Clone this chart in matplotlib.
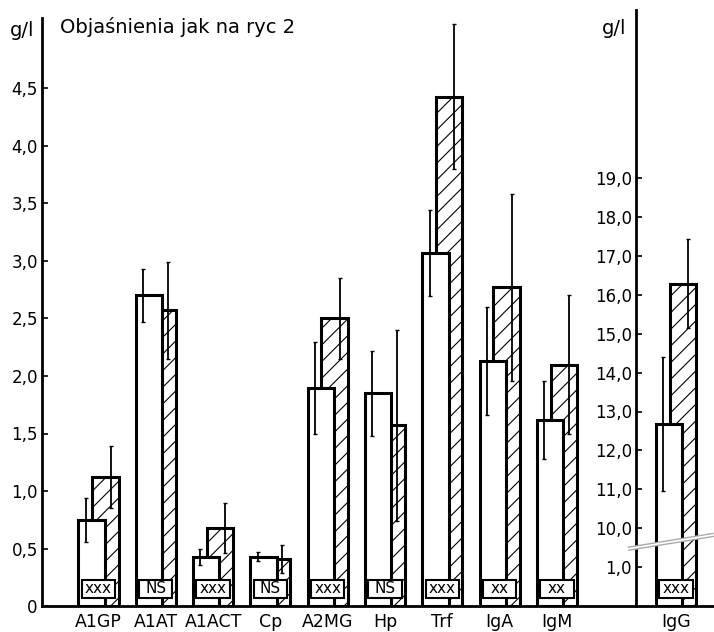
import numpy as np
import matplotlib
matplotlib.use("Agg")
import matplotlib.pyplot as plt
from matplotlib.patches import Rectangle

plt.rcParams['hatch.linewidth'] = 0.8
plt.rcParams['font.family'] = ['DejaVu Sans']

# data (g/l)
categories = ["A1GP", "A1AT", "A1ACT", "Cp", "A2MG", "Hp", "Trf", "IgA", "IgM"]
before = [0.75, 2.70, 0.43, 0.43, 1.90, 1.85, 3.07, 2.13, 1.62]
before_err = [0.19, 0.23, 0.07, 0.04, 0.40, 0.37, 0.37, 0.47, 0.34]
after = [1.12, 2.57, 0.68, 0.41, 2.50, 1.57, 4.43, 2.77, 2.10]
after_err = [0.27, 0.42, 0.22, 0.12, 0.35, 0.83, 0.63, 0.81, 0.60]
signif = ["xxx", "NS", "xxx", "NS", "xxx", "NS", "xxx", "xx", "xx"]

igg_label = "IgG"
igg_before, igg_before_err = 12.67, 1.72
igg_after, igg_after_err = 16.29, 1.15
igg_signif = "xxx"

left_ticks = [0, 0.5, 1.0, 1.5, 2.0, 2.5, 3.0, 3.5, 4.0, 4.5]
right_ticks = [1, 10, 11, 12, 13, 14, 15, 16, 17, 18, 19]


def brk(v):
    # broken right scale: 0-1 then jump to 10
    v = np.asarray(v, dtype=float)
    return np.where(v >= 10, v - 8, v)


def fmt(v):
    return "0" if v == 0 else f"{v:.1f}".replace(".", ",")


W, H = 714, 632
fig = plt.figure(figsize=(W / 100, H / 100), dpi=100)
ax = fig.add_axes([42 / W, 26 / H, (W - 42) / W, 606 / H])
ax2 = ax.twinx()

x = np.arange(len(categories))
x_igg = 10.08
off = 0.12
bw = 0.46

# left panel
ax.bar(x + off, after, bw, facecolor="white", edgecolor="black", hatch="//", lw=2.2, zorder=2)
ax.bar(x - off, before, bw, facecolor="white", edgecolor="black", lw=2.2, zorder=3)
ax.errorbar(x - 0.22, before, yerr=before_err, fmt="none", ecolor="black",
            elinewidth=1.3, capsize=1.5, capthick=1, zorder=4)
ax.errorbar(x + 0.21, after, yerr=after_err, fmt="none", ecolor="black",
            elinewidth=1.3, capsize=1.5, capthick=1, zorder=4)

# right panel (IgG, broken scale)
ax2.bar(x_igg + off, brk(igg_after), bw, facecolor="white", edgecolor="black", hatch="//", lw=2.2, zorder=2)
ax2.bar(x_igg - off, brk(igg_before), bw, facecolor="white", edgecolor="black", lw=2.2, zorder=3)
ax2.errorbar([x_igg - 0.22], brk([igg_before]), yerr=igg_before_err, fmt="none", ecolor="black",
             elinewidth=1.3, capsize=1.5, capthick=1, zorder=4)
ax2.errorbar([x_igg + 0.21], brk([igg_after]), yerr=igg_after_err, fmt="none", ecolor="black",
             elinewidth=1.3, capsize=1.5, capthick=1, zorder=4)

# significance boxes (drawn on top, in left-axis units)
for xi, s in zip(list(x) + [x_igg], signif + [igg_signif]):
    ax2.add_patch(Rectangle((xi - 0.29, 0.07), 0.58, 0.16, transform=ax.transData,
                            facecolor="white", edgecolor="black", lw=1.5, zorder=6))
    ax2.text(xi, 0.15, s, transform=ax.transData, ha="center", va="center",
             fontsize=11, zorder=7)

# scale break on the right axis
xb = np.array([9.24, 10.74])
yb = np.array([1.47, 1.83])
ax2.plot(xb, yb, color="#aaaaaa", lw=3.2, zorder=8, solid_capstyle="butt")
ax2.plot(xb, yb, color="white", lw=1.2, zorder=9, solid_capstyle="butt")

# axes
ax.set_xlim((42 - 98.5) / 57.3, (714 - 98.5) / 57.3)
ax.set_ylim(0, 606 / 115)
ax2.set_ylim(0, 606 / 38.9)

for s in ["top", "right"]:
    ax.spines[s].set_visible(False)
for s in ["top", "right", "bottom"]:
    ax2.spines[s].set_visible(False)
ax.spines["left"].set_bounds(0, (606 - 18) / 115)
ax.spines["left"].set_linewidth(2)
ax.spines["bottom"].set_linewidth(2)

ax2.spines["left"].set_visible(True)
ax2.spines["left"].set_position(("data", (636 - 98.5) / 57.3))
ax2.spines["left"].set_bounds(0, (606 - 10) / 38.9)
ax2.spines["left"].set_linewidth(2)
ax2.yaxis.tick_left()

ax.set_yticks(left_ticks)
ax.set_yticklabels([fmt(v) for v in left_ticks])
ax.tick_params(axis="y", direction="in", length=4, width=1.2, pad=3, labelsize=12)

ax2.set_yticks(brk(right_ticks))
ax2.set_yticklabels([fmt(v) for v in right_ticks])
ax2.tick_params(axis="y", direction="in", length=4, width=1.2, pad=3, labelsize=12,
                left=True, labelleft=True, right=False, labelright=False)

ax.set_xticks(list(x) + [x_igg])
ax.set_xticklabels(categories + [igg_label])
ax.tick_params(axis="x", length=0, pad=5, labelsize=12.5)

fig.text(60 / W, 1 - 27 / H, "Objaśnienia jak na ryc 2", fontsize=14, va="center", ha="left")
fig.text(22 / W, 1 - 30 / H, "g/l", fontsize=14, va="center", ha="center")
fig.text(614 / W, 1 - 28 / H, "g/l", fontsize=14, va="center", ha="center")

fig.savefig("out.png", dpi=100)
